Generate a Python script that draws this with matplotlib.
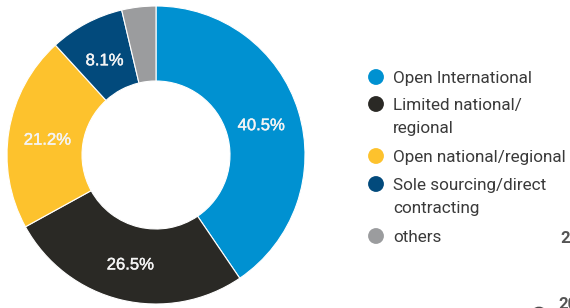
import numpy as np
import matplotlib.pyplot as plt
import matplotlib.patheffects as pe

categories = ['Open International', 'Limited national/\nregional', 'Open national/regional',
              'Sole sourcing/direct\ncontracting', 'others']
shares = [40.5, 26.5, 21.2, 8.1, 3.7]
labels = ['40.5%', '26.5%', '21.2%', '8.1%', '']
colors = ['#0091d1', '#2a2925', '#fdc22d', '#024a7c', '#9b9c9e']

cx, cy, R = 156, 155, 149

fig = plt.figure(figsize=(5.7, 3.08), dpi=100)
ax = fig.add_axes([0, 0, 1, 1])

# y axis is flipped below, so start at -90 (screen top) and run clockwise on screen
wedges, _ = ax.pie(shares, colors=colors, startangle=-90, counterclock=True,
                   center=(cx, cy), radius=R, frame=True,
                   wedgeprops=dict(width=75, edgecolor='white', linewidth=0.8))

ang = 90
for s, lab in zip(shares, labels):
    mid = np.deg2rad(ang - s * 1.8)
    ang -= s * 3.6
    if lab:
        r = 110
        ax.text(cx + r * np.cos(mid), cy + 3 - r * np.sin(mid), lab,
                ha='center', va='center', color='#f4f4f4', fontsize=12,
                family='Liberation Sans',
                path_effects=[pe.withStroke(linewidth=0.3, foreground='#f4f4f4')])

ax.set_xlim(0, 570)
ax.set_ylim(308, 0)
ax.set_aspect('equal')
ax.axis('off')

# legend
ys = [77, 104, 156, 184, 236]
for y, c, t in zip(ys, colors, categories):
    ax.scatter([376], [y], s=130, color=c, edgecolor='none', zorder=3)
    for i, line in enumerate(t.split('\n')):
        ax.text(393, y + 6 + i * 23.5, line, ha='left', va='baseline',
                fontsize=12.3, color='#3a3a3a', family='Roboto')

# fragments of the neighbouring chart at the right edge
ax.text(560, 243, '25', fontsize=12, color='#555555', family='Roboto',
        fontweight='bold', va='baseline')
ax.text(558, 309, '20', fontsize=12, color='#555555', family='Roboto',
        fontweight='bold', va='baseline')
ax.scatter([539], [316], s=180, color='#4a4a4a', edgecolor='none')

fig.savefig('out.png', dpi=100)
